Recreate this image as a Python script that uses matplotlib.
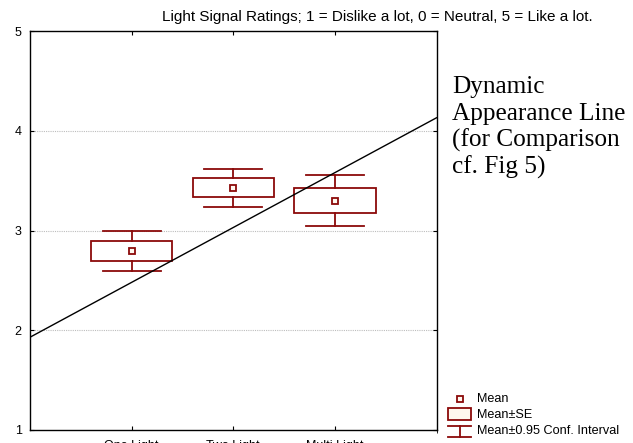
import matplotlib
matplotlib.use("Agg")
import matplotlib.pyplot as plt
from matplotlib.patches import Rectangle

# ---- data ----
categories = ["One Light", "Two Light", "Multi Light"]
means = [2.79, 3.43, 3.30]
se = [0.10, 0.095, 0.125]
ci95 = [0.20, 0.19, 0.255]
line_x = [0, 4]
line_y = [1.93, 4.13]
yticks = [1, 2, 3, 4, 5]
title = "Light Signal Ratings; 1 = Dislike a lot, 0 = Neutral, 5 = Like a lot."
note_lines = ["Dynamic", "Appearance Line", "(for Comparison", "cf. Fig 5)"]
legend_labels = ["Mean", "Mean\u00b1SE", "Mean\u00b10.95 Conf. Interval"]

W, H = 633, 443
fig = plt.figure(figsize=(W / 100, H / 100), dpi=100)
plt.rcParams['font.family'] = ['Liberation Sans', 'DejaVu Sans']

L, R, T, B = 30, 436.5, 31, 430
ax = fig.add_axes([L / W, 1 - B / H, (R - L) / W, (B - T) / H])

RED = '#8b0a0a'
box_w = 0.80
cap_w = 0.57

xs = list(range(1, len(categories) + 1))
for x, m, s, c in zip(xs, means, se, ci95):
    ax.add_patch(Rectangle((x - box_w / 2, m - s), box_w, 2 * s, facecolor='white',
                           edgecolor=RED, linewidth=1.3, zorder=3))
    ax.plot([x, x], [m + s, m + c], color=RED, lw=1.3, zorder=3)
    ax.plot([x, x], [m - s, m - c], color=RED, lw=1.3, zorder=3)
    ax.plot([x - cap_w / 2, x + cap_w / 2], [m + c, m + c], color=RED, lw=1.3, zorder=3)
    ax.plot([x - cap_w / 2, x + cap_w / 2], [m - c, m - c], color=RED, lw=1.3, zorder=3)
ax.plot(xs, means, linestyle='none', marker='s', markersize=4.5, markerfacecolor='#fff8f0',
        markeredgecolor=RED, markeredgewidth=1.3, zorder=4)

ax.plot(line_x, line_y, color='black', lw=1.0, zorder=5)

ax.set_xlim(0, 4)
ax.set_ylim(1, 5)
ax.set_yticks(yticks)
ax.set_xticks(xs)
ax.set_xticklabels(categories, fontsize=9)
ax.tick_params(axis='both', direction='in', length=3, width=0.8, labelsize=9,
               top=True, right=True, colors='black')
ax.tick_params(axis='x', pad=7)
ax.tick_params(axis='y', pad=6)
ax.set_xticks([4], minor=True)
for yy in [2, 3, 4]:
    ax.axhline(yy, color='#bdbdbd', lw=0.8, linestyle=(0, (1, 1)), zorder=1)
for sp in ax.spines.values():
    sp.set_linewidth(1.0)

fig.text(162 / W, 1 - 17 / H, title, ha='left', va='center', fontsize=11.0)

baselines = [93.3, 120, 147, 173.5]
for txt, bl in zip(note_lines, baselines):
    fig.text(452 / W, 1 - bl / H, txt, ha='left', va='baseline', fontsize=18.2,
             family=['Liberation Serif', 'DejaVu Serif'])

# legend (figure pixel coordinates)
lax = fig.add_axes([0, 0, 1, 1], facecolor='none')
lax.set_xlim(0, W)
lax.set_ylim(H, 0)
lax.axis('off')
lax.plot([460], [399], marker='s', markersize=4.5, markerfacecolor='#fff8f0',
         markeredgecolor=RED, markeredgewidth=1.3, linestyle='none')
lax.add_patch(Rectangle((448, 408), 23, 12, facecolor='#fff8ee', edgecolor=RED, linewidth=1.3))
lax.plot([460, 460], [426, 437], color=RED, lw=1.3)
lax.plot([448, 471], [426, 426], color=RED, lw=1.3)
lax.plot([448, 471], [437, 437], color=RED, lw=1.3)
for lab, yy in zip(legend_labels, [399, 415, 431]):
    lax.text(477, yy, lab, ha='left', va='center', fontsize=9.1)

fig.savefig('out.png', dpi=100)
